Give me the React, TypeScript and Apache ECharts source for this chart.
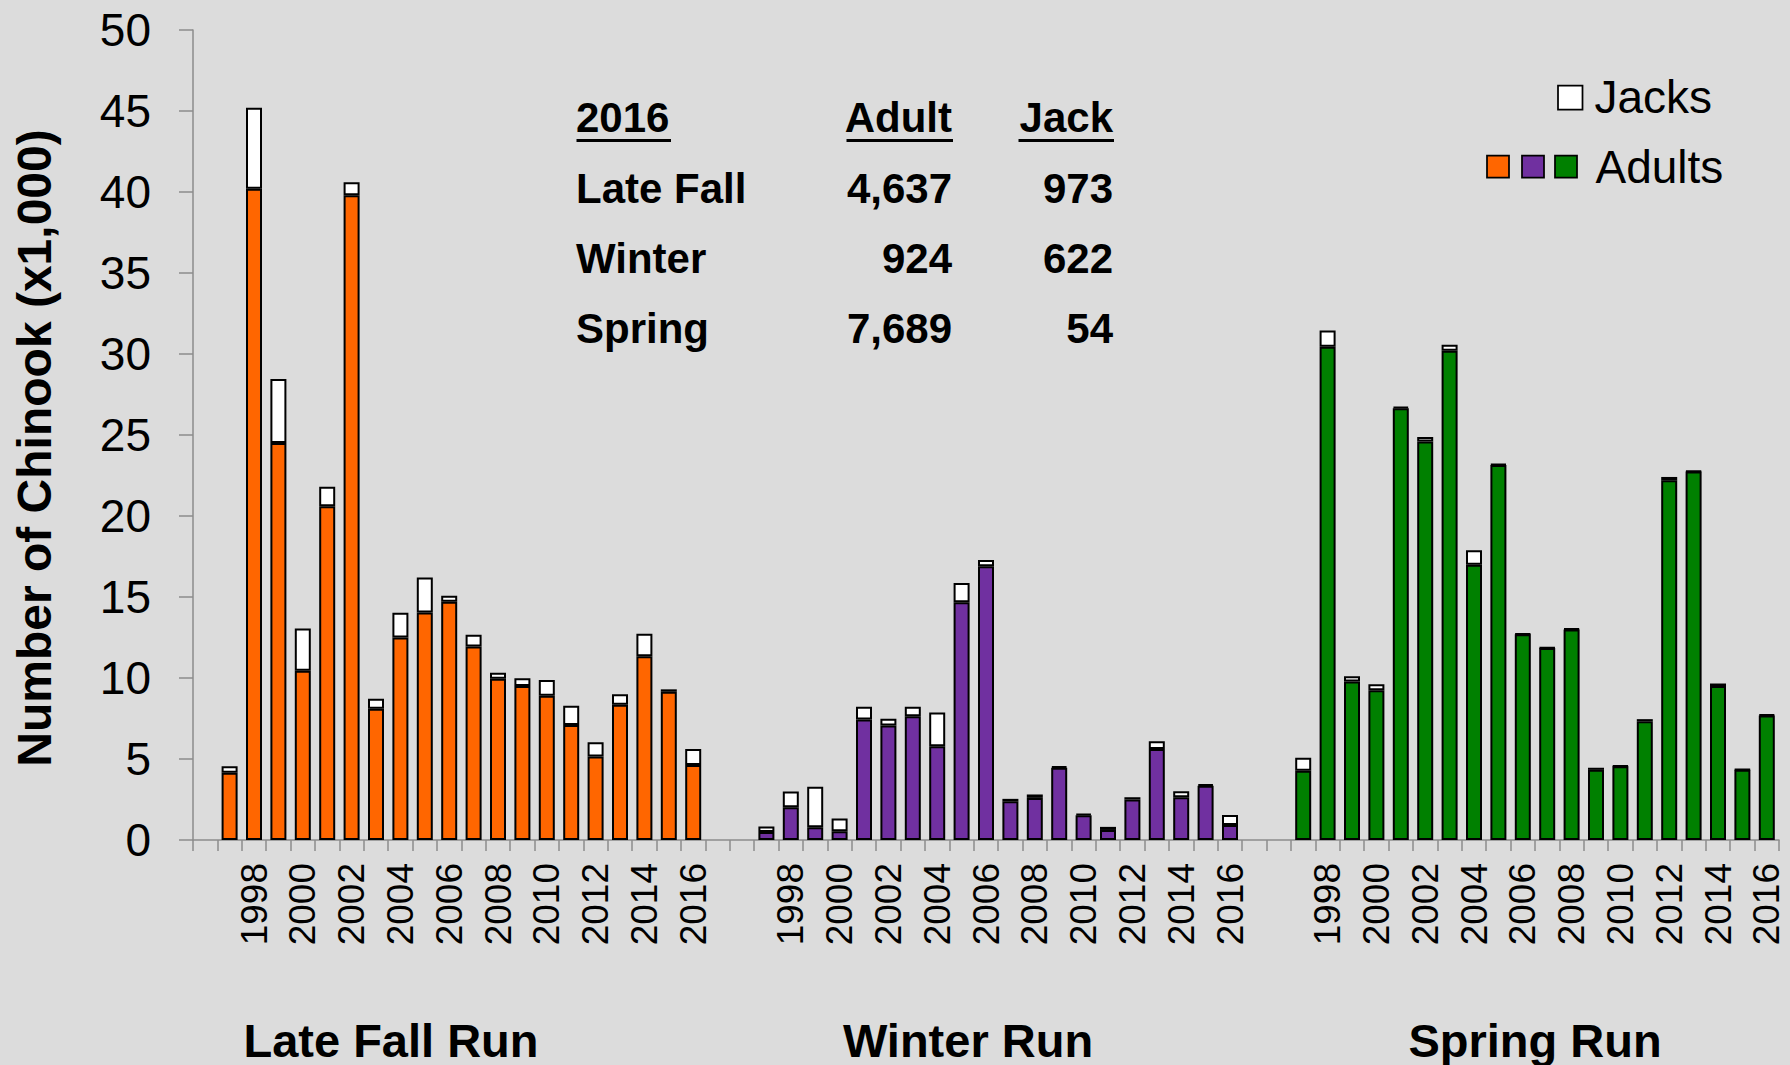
import React, { useEffect, useRef } from "react";
import * as echarts from "echarts";

// Years shown in each run group
const years = [1997, 1998, 1999, 2000, 2001, 2002, 2003, 2004, 2005, 2006, 2007, 2008, 2009, 2010, 2011, 2012, 2013, 2014, 2015, 2016];

// Values in thousands of fish
const lateFallAdults = [4.15, 40.2, 24.5, 10.45, 20.6, 39.8, 8.1, 12.5, 14.05, 14.7, 11.95, 9.95, 9.5, 8.9, 7.1, 5.15, 8.35, 11.35, 9.15, 4.637];
const lateFallJacks = [0.41, 5.0, 3.95, 2.6, 1.2, 0.8, 0.62, 1.53, 2.15, 0.38, 0.72, 0.38, 0.48, 0.98, 1.18, 0.88, 0.64, 1.38, 0.15, 0.973];
const winterAdults = [0.49, 2.02, 0.78, 0.54, 7.44, 7.07, 7.64, 5.78, 14.67, 16.9, 2.39, 2.6, 4.46, 1.53, 0.62, 2.5, 5.62, 2.64, 3.35, 0.924];
const winterJacks = [0.35, 0.97, 2.5, 0.78, 0.78, 0.41, 0.58, 2.09, 1.2, 0.38, 0.15, 0.21, 0.08, 0.08, 0.19, 0.14, 0.47, 0.37, 0.08, 0.622];
const springAdults = [4.28, 30.45, 9.79, 9.24, 26.65, 24.6, 30.2, 16.99, 23.15, 12.7, 11.85, 13.0, 4.33, 4.55, 7.33, 22.2, 22.75, 9.5, 4.33, 7.689];
const springJacks = [0.79, 1.0, 0.32, 0.37, 0.08, 0.28, 0.37, 0.89, 0.05, 0.04, 0.03, 0.05, 0.13, 0.04, 0.13, 0.21, 0.04, 0.16, 0.03, 0.054];

const groupNames = ["Late Fall Run", "Winter Run", "Spring Run"];
const groupKeys = ["LF", "W", "S"];
const groupColors = ["#FF6600", "#7030A0", "#008000"];
const gapBefore = [1, 2, 2];

const yTicks = { min: 0, max: 50, interval: 5 };

const tableHeader = ["2016", "Adult", "Jack"];
const tableRows = [
  ["Late Fall", "4,637", "973"],
  ["Winter", "924", "622"],
  ["Spring", "7,689", "54"],
];

const FONT = "'Liberation Sans', Arial, Helvetica, sans-serif";

export default function App() {
  const ref = useRef<HTMLDivElement>(null);

  useEffect(() => {
    if (!ref.current) return;
    const chart = echarts.init(ref.current, null, { renderer: "svg" });

    const adultsByGroup = [lateFallAdults, winterAdults, springAdults];
    const jacksByGroup = [lateFallJacks, winterJacks, springJacks];

    const categories: string[] = [];
    const adultData: any[] = [];
    const jackData: any[] = [];
    let gapId = 0;
    groupKeys.forEach((key, g) => {
      for (let i = 0; i < gapBefore[g]; i++) {
        categories.push("gap-" + gapId++);
        adultData.push("-");
        jackData.push("-");
      }
      years.forEach((yr, i) => {
        categories.push(key + "-" + yr);
        adultData.push({ value: adultsByGroup[g][i], itemStyle: { color: groupColors[g] } });
        jackData.push(jacksByGroup[g][i]);
      });
    });

    const graphic: any[] = [];
    // Y axis title
    graphic.push({
      type: "text",
      x: 34,
      y: 448,
      rotation: Math.PI / 2,
      style: {
        text: "Number of Chinook (x1,000)",
        fontFamily: FONT,
        fontSize: 48,
        fontWeight: "bold",
        fill: "#000",
        align: "center",
        verticalAlign: "middle",
      },
    });
    // Table
    const colX = [576, 952, 1113];
    const colAlign = ["left", "right", "right"];
    const headerY = 117.5;
    const rowY = [188.5, 258.5, 328.5];
    tableHeader.forEach((t, c) => {
      graphic.push({
        type: "text",
        x: colX[c],
        y: headerY,
        style: { text: t, fontFamily: FONT, fontSize: 42, fontWeight: "bold", fill: "#000", align: colAlign[c], verticalAlign: "middle" },
      });
    });
    const underlines = [
      [576.5, 671],
      [846.5, 953],
      [1018.5, 1114],
    ];
    underlines.forEach(([x1, x2]) => {
      graphic.push({ type: "line", shape: { x1, y1: 140.5, x2, y2: 140.5 }, style: { stroke: "#000", lineWidth: 3 } });
    });
    tableRows.forEach((row, r) => {
      row.forEach((t, c) => {
        graphic.push({
          type: "text",
          x: colX[c],
          y: rowY[r],
          style: { text: t, fontFamily: FONT, fontSize: 42, fontWeight: "bold", fill: "#000", align: colAlign[c], verticalAlign: "middle" },
        });
      });
    });
    // Legend
    graphic.push({ type: "rect", shape: { x: 1558, y: 85.5, width: 24.5, height: 24 }, style: { fill: "#FFFFFF", stroke: "#000", lineWidth: 1.75 } });
    graphic.push({ type: "text", x: 1594.5, y: 96.5, style: { text: "Jacks", fontFamily: FONT, fontSize: 46, fill: "#000", align: "left", verticalAlign: "middle" } });
    const adultBoxX = [1487, 1522, 1555];
    adultBoxX.forEach((x, i) => {
      graphic.push({ type: "rect", shape: { x, y: 155.5, width: 22, height: 22 }, style: { fill: groupColors[i], stroke: "#000", lineWidth: 1.75 } });
    });
    graphic.push({ type: "text", x: 1595.5, y: 166.5, style: { text: "Adults", fontFamily: FONT, fontSize: 46, fill: "#000", align: "left", verticalAlign: "middle" } });
    // Group labels
    const groupLabelX = [391, 968, 1535];
    groupNames.forEach((n, i) => {
      graphic.push({
        type: "text",
        x: groupLabelX[i],
        y: 1040,
        style: { text: n, fontFamily: FONT, fontSize: 47, fontWeight: "bold", fill: "#000", align: "center", verticalAlign: "middle" },
      });
    });

    const option: any = {
      animation: false,
      backgroundColor: "#DCDCDC",
      grid: { left: 193, right: 11, top: 30, bottom: 225, containLabel: false },
      xAxis: {
        type: "category",
        data: categories,
        boundaryGap: true,
        axisLine: { show: true, lineStyle: { color: "#8C8C8C", width: 1.5 } },
        axisTick: { show: true, interval: 0, length: 11, lineStyle: { color: "#8C8C8C", width: 1.5 } },
        axisLabel: {
          interval: 0,
          rotate: 90,
          margin: 23,
          fontSize: 37,
          fontFamily: FONT,
          color: "#000",
          formatter: (v: string) => {
            const parts = v.split("-");
            const y = Number(parts[1]);
            return parts[0] !== "gap" && y % 2 === 0 ? String(y) : "";
          },
        },
        splitLine: { show: false },
      },
      yAxis: {
        type: "value",
        min: yTicks.min,
        max: yTicks.max,
        interval: yTicks.interval,
        axisLine: { show: true, lineStyle: { color: "#8C8C8C", width: 1.5 } },
        axisTick: { show: true, inside: false, length: 14, lineStyle: { color: "#8C8C8C", width: 1.5 } },
        axisLabel: { fontSize: 46, fontFamily: FONT, color: "#000", margin: 42 },
        splitLine: { show: false },
      },
      series: [
        {
          name: "Adults",
          type: "bar",
          stack: "total",
          barWidth: 16,
          data: adultData,
          itemStyle: { borderColor: "#000", borderWidth: 2 },
        },
        {
          name: "Jacks",
          type: "bar",
          stack: "total",
          barWidth: 16,
          data: jackData,
          itemStyle: { color: "#FFFFFF", borderColor: "#000", borderWidth: 2 },
        },
      ],
      graphic,
    };
    chart.setOption(option);
    return () => chart.dispose();
  }, []);

  return <div ref={ref} style={{ position: "fixed", left: 0, top: 0, width: 1790, height: 1065 }} />;
}
